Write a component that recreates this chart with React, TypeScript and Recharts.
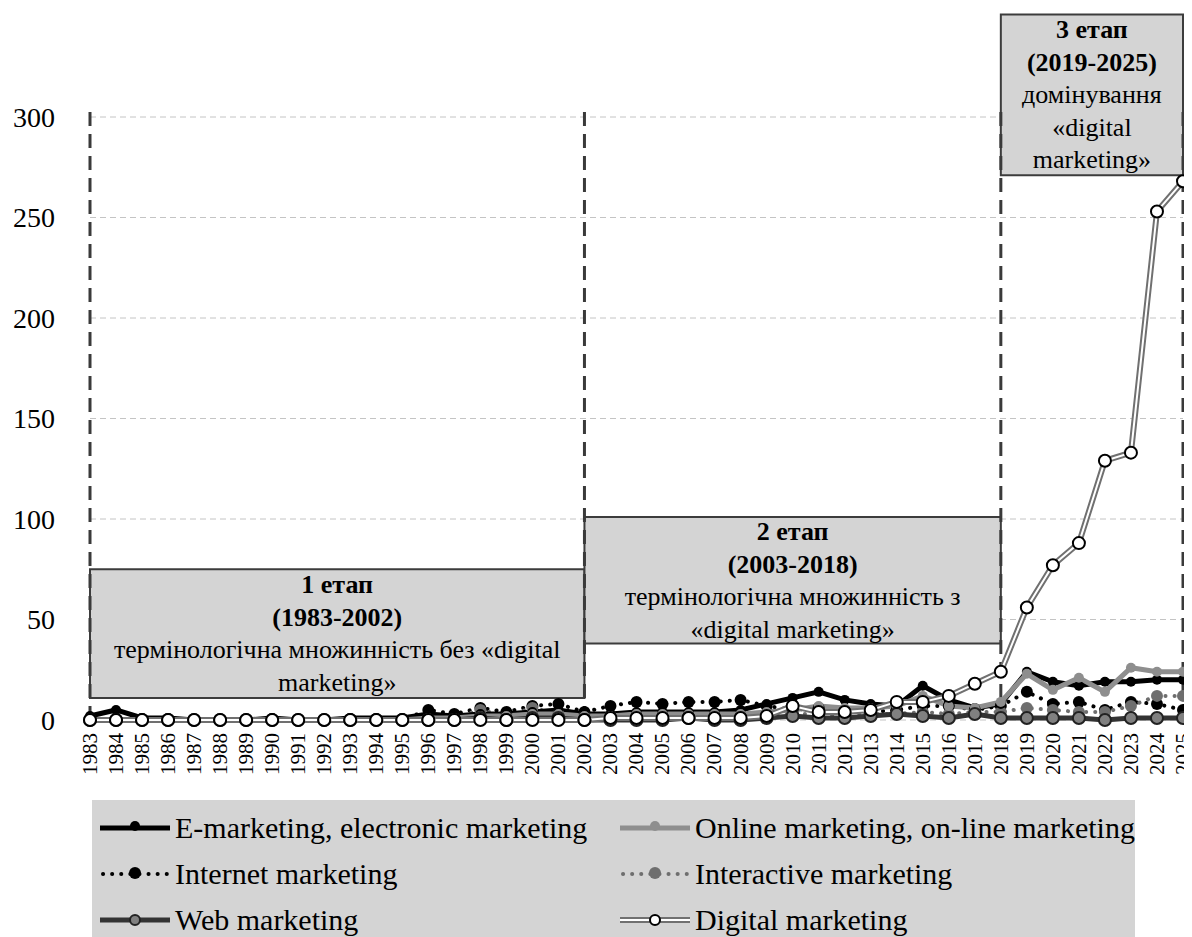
import React from 'react';
import {
  LineChart,
  Line,
  XAxis,
  YAxis,
  CartesianGrid,
  ReferenceArea,
  ReferenceLine
} from 'recharts';

const FONT = 'Liberation Serif';

const years = [
  1983, 1984, 1985, 1986, 1987, 1988, 1989, 1990, 1991, 1992, 1993, 1994, 1995, 1996, 1997,
  1998, 1999, 2000, 2001, 2002, 2003, 2004, 2005, 2006, 2007, 2008, 2009, 2010, 2011, 2012,
  2013, 2014, 2015, 2016, 2017, 2018, 2019, 2020, 2021, 2022, 2023, 2024, 2025
];

const eMarketing = [
  2, 5, 1, 1, 0, 0, 0, 1, 0, 0, 1, 1, 1, 3, 2, 3, 3, 4, 5, 3, 3, 4, 4, 4, 4, 5, 8, 11, 14, 10,
  8, 7, 17, 10, 6, 8, 24, 19, 17, 19, 19, 20, 20
];
const onlineMarketing = [
  0, 0, 0, 0, 0, 0, 0, 0, 0, 0, 0, 0, 0, 1, 1, 2, 2, 3, 3, 2, 2, 3, 3, 3, 3, 3, 4, 5, 7, 6,
  6, 7, 12, 7, 6, 9, 23, 15, 21, 14, 26, 24, 24
];
const internetMarketing = [
  0, 0, 0, 0, 0, 0, 0, 0, 0, 0, 0, 0, 0, 5, 3, 6, 4, 7, 8, 4, 7, 9, 8, 9, 9, 10, 7, 5, 6, 4,
  4, 5, 7, 7, 5, 7, 14, 8, 9, 5, 9, 8, 5
];
const interactiveMarketing = [
  0, 0, 0, 0, 0, 0, 0, 0, 0, 0, 0, 0, 0, 1, 1, 5, 2, 6, 3, 2, 2, 2, 2, 2, 2, 2, 2, 3, 3, 2,
  3, 3, 4, 3, 4, 4, 6, 5, 4, 4, 7, 12, 12
];
const webMarketing = [
  0, 0, 0, 0, 0, 0, 0, 0, 0, 0, 0, 0, 0, 0, 0, 1, 0, 1, 1, 0, 0, 0, 0, 1, 0, 0, 1, 2, 1, 1,
  2, 3, 2, 1, 3, 1, 1, 1, 1, 0, 1, 1, 1
];
const digitalMarketing = [
  0, 0, 0, 0, 0, 0, 0, 0, 0, 0, 0, 0, 0, 0, 0, 0, 0, 0, 0, 0, 1, 1, 1, 1, 1, 1, 2, 7, 4, 4,
  5, 9, 9, 12, 18, 24, 56, 77, 88, 129, 133, 253, 268
];

const yTicks = [0, 50, 100, 150, 200, 250, 300];

// stage boxes: x range by year, y range in value units, text lines
const stages = [
  { x1: 1983, x2: 2002, y1: 11, y2: 75, lines: ['1 етап', '(1983-2002)', 'термінологічна множинність без «digital', 'marketing»'] },
  { x1: 2002, x2: 2018, y1: 38, y2: 101, lines: ['2 етап', '(2003-2018)', 'термінологічна множинність з', '«digital marketing»'] },
  { x1: 2018, x2: 2025, y1: 271, y2: 351, lines: ['3 етап', '(2019-2025)', 'домінування', '«digital', 'marketing»'] }
];
const stageBorders = [1983, 2002, 2018, 2025];

const data = years.map((year, i) => ({
  year,
  e: eMarketing[i],
  online: onlineMarketing[i],
  internet: internetMarketing[i],
  interactive: interactiveMarketing[i],
  web: webMarketing[i],
  digital: digitalMarketing[i]
}));

const legendItems = [
  { name: 'E-marketing, electronic marketing', kind: 'e' },
  { name: 'Online marketing, on-line marketing', kind: 'online' },
  { name: 'Internet marketing', kind: 'internet' },
  { name: 'Interactive marketing', kind: 'interactive' },
  { name: 'Web marketing', kind: 'web' },
  { name: 'Digital marketing', kind: 'digital' }
];

const YearTick = (props: any) => {
  const { x, y, payload } = props;
  return (
    <text
      x={x}
      y={y}
      transform={`rotate(-90 ${x} ${y})`}
      textAnchor="end"
      dy="0.33em"
      fontSize={21}
      style={{ fontFamily: FONT }}
      fill="#000"
    >
      {payload.value}
    </text>
  );
};

const StageLabel = (props: any) => {
  const { viewBox, lines } = props;
  if (!viewBox) return null;
  const cx = viewBox.x + viewBox.width / 2;
  const cy = viewBox.y + viewBox.height / 2;
  const step = 32.5;
  const start = cy - ((lines.length - 1) * step) / 2;
  return (
    <g>
      {lines.map((t: string, i: number) => (
        <text
          key={i}
          x={cx}
          y={start + i * step}
          textAnchor="middle"
          dominantBaseline="central"
          fontSize={26}
          fontWeight={i < 2 ? 'bold' : 'normal'}
          style={{ fontFamily: FONT }}
          fill="#000"
        >
          {t}
        </text>
      ))}
    </g>
  );
};

const LegendMark = ({ kind }: { kind: string }) => {
  let line: React.ReactNode = null;
  let dot: React.ReactNode = null;
  if (kind === 'e') {
    line = <line x1={0} y1={12} x2={70} y2={12} stroke="#000" strokeWidth={5} />;
    dot = <circle cx={35} cy={10} r={5} fill="#000" />;
  } else if (kind === 'online') {
    line = <line x1={0} y1={12} x2={70} y2={12} stroke="#8e8e8e" strokeWidth={5} />;
    dot = <circle cx={35} cy={10} r={5} fill="#8e8e8e" />;
  } else if (kind === 'internet') {
    line = <line x1={3} y1={12} x2={70} y2={12} stroke="#000" strokeWidth={4} strokeLinecap="round" strokeDasharray="0.1 9" />;
    dot = <circle cx={35} cy={11} r={6} fill="#000" />;
  } else if (kind === 'interactive') {
    line = <line x1={3} y1={12} x2={70} y2={12} stroke="#6e6e6e" strokeWidth={4} strokeLinecap="round" strokeDasharray="0.1 9" />;
    dot = <circle cx={35} cy={11} r={6} fill="#6e6e6e" />;
  } else if (kind === 'web') {
    line = <line x1={0} y1={12} x2={70} y2={12} stroke="#333" strokeWidth={5} />;
    dot = <circle cx={35} cy={12} r={5} fill="#808080" stroke="#222" strokeWidth={2} />;
  } else {
    line = (
      <g>
        <line x1={0} y1={12} x2={70} y2={12} stroke="#707070" strokeWidth={6} />
        <line x1={0} y1={12} x2={70} y2={12} stroke="#fff" strokeWidth={2} />
      </g>
    );
    dot = <circle cx={35} cy={12} r={5} fill="#fff" stroke="#000" strokeWidth={2} />;
  }
  return (
    <svg width={72} height={24} style={{ display: 'block' }}>
      {line}
      {dot}
    </svg>
  );
};

const App = () => (
  <div style={{ position: 'relative', width: 1184, height: 929, overflow: 'hidden', background: '#fff', fontFamily: FONT }}>
    <LineChart width={1184} height={800} data={data} margin={{ top: 109, right: 9, left: 0, bottom: 0 }} style={{ fontFamily: FONT }}>
      <CartesianGrid vertical={false} stroke="#c4c4c4" strokeDasharray="6 4" />
      <XAxis
        dataKey="year"
        type="category"
        interval={0}
        height={88}
        tickSize={0}
        tickMargin={13}
        axisLine={false}
        tickLine={false}
        tick={<YearTick />}
      />
      <YAxis
        domain={[0, 300]}
        ticks={yTicks}
        width={82}
        tickSize={0}
        tickMargin={35}
        axisLine={false}
        tickLine={false}
        tick={{ fontSize: 28, fontFamily: FONT, fill: '#000' }}
      />
      {stages.map((s, i) => (
        <ReferenceArea
          key={`stage-${i}`}
          x1={s.x1}
          x2={s.x2}
          y1={s.y1}
          y2={s.y2}
          ifOverflow="visible"
          fill="#d4d4d4"
          fillOpacity={1}
          stroke="#3c3c3c"
          strokeWidth={2}
          label={<StageLabel lines={s.lines} />}
        />
      ))}
      {stageBorders.map((yr) => (
        <ReferenceLine
          key={`border-${yr}`}
          segment={[{ x: yr, y: 0 }, { x: yr, y: 306 }]}
          ifOverflow="visible"
          stroke="#3a3a3a"
          strokeWidth={3}
          strokeDasharray="14 8"
        />
      ))}
      <Line
        dataKey="internet"
        stroke="#000"
        strokeWidth={4}
        strokeLinecap="round"
        strokeDasharray="0.1 9"
        dot={{ r: 6, fill: '#000', stroke: '#000', strokeWidth: 0 }}
        isAnimationActive={false}
      />
      <Line
        dataKey="interactive"
        stroke="#6e6e6e"
        strokeWidth={4}
        strokeLinecap="round"
        strokeDasharray="0.1 9"
        dot={{ r: 6, fill: '#6e6e6e', stroke: '#6e6e6e', strokeWidth: 0 }}
        isAnimationActive={false}
      />
      <Line
        dataKey="e"
        stroke="#000"
        strokeWidth={5}
        dot={{ r: 5, fill: '#000', stroke: '#000', strokeWidth: 0 }}
        isAnimationActive={false}
      />
      <Line
        dataKey="online"
        stroke="#8e8e8e"
        strokeWidth={5}
        dot={{ r: 5, fill: '#8e8e8e', stroke: '#8e8e8e', strokeWidth: 0 }}
        isAnimationActive={false}
      />
      <Line
        dataKey="web"
        stroke="#333"
        strokeWidth={5}
        dot={{ r: 6, fill: '#808080', stroke: '#222', strokeWidth: 2 }}
        isAnimationActive={false}
      />
      <Line dataKey="digital" stroke="#707070" strokeWidth={6} dot={false} isAnimationActive={false} />
      <Line
        dataKey="digital"
        stroke="#fff"
        strokeWidth={2}
        dot={{ r: 6, fill: '#fff', stroke: '#000', strokeWidth: 2 }}
        isAnimationActive={false}
      />
    </LineChart>
    <div
      style={{
        position: 'absolute',
        left: 84,
        top: 792,
        width: 1043,
        height: 140,
        background: '#d4d4d4',
        fontFamily: FONT,
        fontSize: 30,
        color: '#000'
      }}
    >
      {legendItems.map((item, i) => {
        const col = i % 2;
        const row = Math.floor(i / 2);
        return (
          <div
            key={item.kind}
            style={{
              position: 'absolute',
              left: col === 0 ? 8 : 528,
              top: 12 + row * 46,
              height: 32,
              display: 'flex',
              alignItems: 'center',
              whiteSpace: 'nowrap'
            }}
          >
            <LegendMark kind={item.kind} />
            <span style={{ marginLeft: 3 }}>{item.name}</span>
          </div>
        );
      })}
    </div>
  </div>
);

export default App;
